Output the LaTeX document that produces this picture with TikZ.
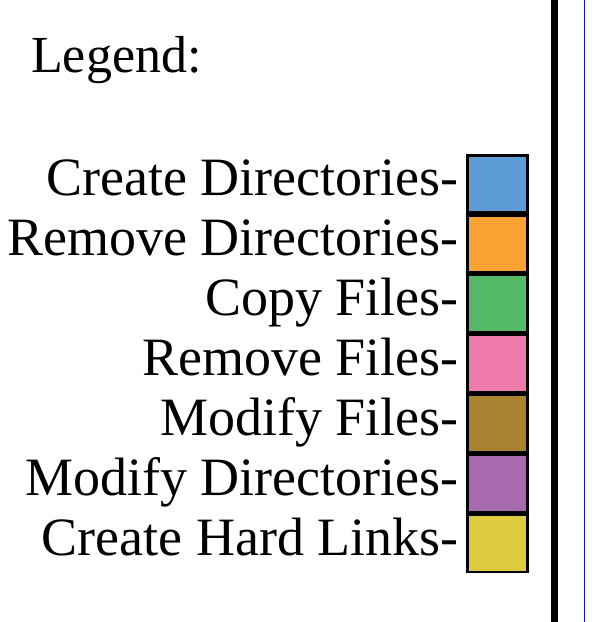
\documentclass[tikz,border=0pt]{standalone}
\usepackage{fontspec}
\setmainfont{Liberation Serif}
\definecolor{cblue}{RGB}{92,156,214}
\definecolor{corange}{RGB}{249,162,52}
\definecolor{cgreen}{RGB}{84,186,104}
\definecolor{cpink}{RGB}{238,122,172}
\definecolor{cbrown}{RGB}{168,130,46}
\definecolor{cpurple}{RGB}{168,106,174}
\definecolor{cyellow}{RGB}{222,204,62}
\definecolor{cline}{RGB}{20,20,210}
\tikzset{
  lbl/.style={anchor=base east, inner sep=0pt, font=\fontsize{54}{60}\selectfont},
  swatch/.style={draw=black, line width=2.6pt},
}
\begin{document}
\begin{tikzpicture}[x=1pt,y=-1pt]
\useasboundingbox (0,0) rectangle (597,622);
\node[anchor=base west, inner sep=0pt, font=\fontsize{52}{60}\selectfont] (title) at (31,72) {Legend:};
\foreach \i/\t/\c in {0/Create Directories-/cblue,1/Remove Directories-/corange,2/Copy Files-/cgreen,3/Remove Files-/cpink,4/Modify Files-/cbrown,5/Modify Directories-/cpurple,6/Create Hard Links-/cyellow}{
  \pgfmathsetmacro{\ytop}{154+59.9*\i}
  \pgfmathsetmacro{\ybot}{154+59.9*(\i+1)}
  \pgfmathsetmacro{\ybase}{195+60*\i}
  \draw[swatch, fill=\c] (467.3,\ytop+1.3) rectangle (527.7,\ybot-1.3);
  \node[lbl] (l\i) at (459,\ybase) {\t};
}
\fill[black] (551,0) rectangle (558,622);
\draw[cline, line width=1.8pt] (584.5,0) -- (584.5,622);
\end{tikzpicture}
\end{document}
